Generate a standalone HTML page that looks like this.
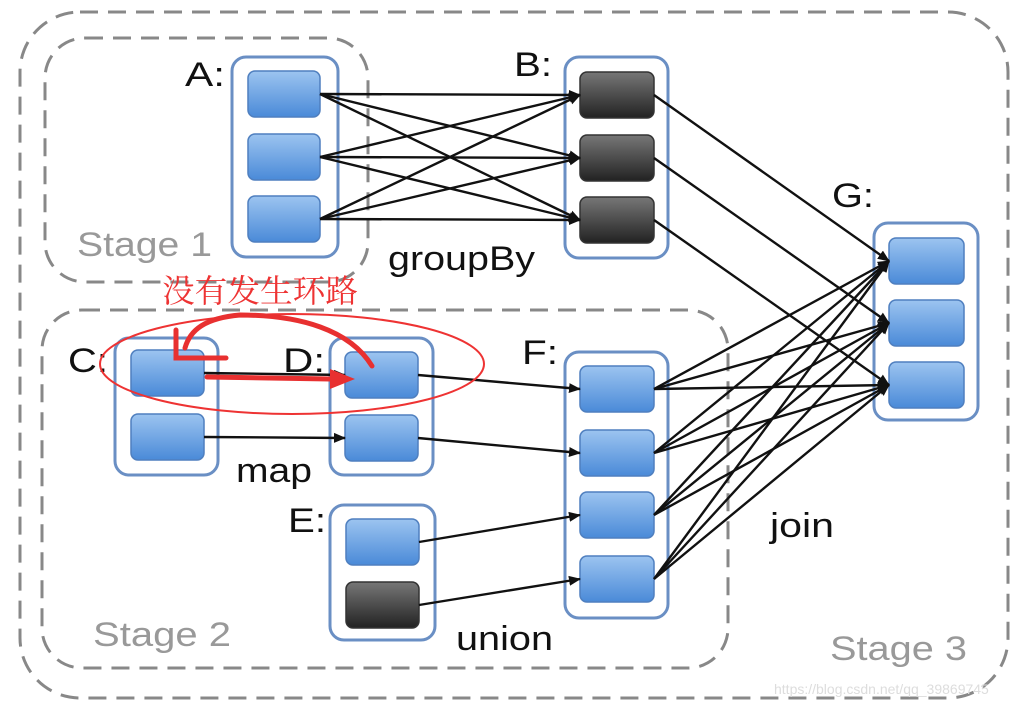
<!DOCTYPE html>
<html><head><meta charset="utf-8"><style>body{margin:0;background:#fff}svg{display:block}</style></head><body>
<svg width="1024" height="708" viewBox="0 0 1024 708" xmlns="http://www.w3.org/2000/svg" font-family="Liberation Sans, sans-serif">
<defs>
<linearGradient id="bl" x1="0" y1="0" x2="0" y2="1"><stop offset="0" stop-color="#9cc4f0"/><stop offset="1" stop-color="#4a8ad8"/></linearGradient>
<linearGradient id="dk" x1="0" y1="0" x2="0" y2="1"><stop offset="0" stop-color="#777"/><stop offset="1" stop-color="#222"/></linearGradient>
<marker id="ar" markerWidth="12" markerHeight="12" refX="11" refY="6" orient="auto" markerUnits="userSpaceOnUse"><path d="M0,1 L12,6 L0,11 z" fill="#111"/></marker>
</defs>
<g fill="none" stroke="#888" stroke-width="3" stroke-dasharray="18,10">
<rect x="20" y="12" width="988" height="686" rx="60"/>
<rect x="45" y="38" width="323" height="244" rx="40"/>
<rect x="42" y="310" width="686" height="358" rx="40"/>
</g>
<g fill="#fff" stroke="#6a8fc4" stroke-width="3">
<rect x="232" y="57" width="106" height="200" rx="14"/>
<rect x="565" y="57" width="103" height="201" rx="14"/>
<rect x="874" y="223" width="104" height="197" rx="14"/>
<rect x="115" y="338" width="103" height="137" rx="14"/>
<rect x="330" y="338" width="103" height="137" rx="14"/>
<rect x="330" y="505" width="105" height="135" rx="14"/>
<rect x="565" y="352" width="103" height="266" rx="14"/>
</g>
<g stroke="#4f7fbf" stroke-width="1.5" fill="url(#bl)">
<rect x="248" y="71" width="72" height="46" rx="7"/><rect x="248" y="134" width="72" height="46" rx="7"/><rect x="248" y="196" width="72" height="46" rx="7"/>
<rect x="889" y="238" width="75" height="46" rx="7"/><rect x="889" y="300" width="75" height="46" rx="7"/><rect x="889" y="362" width="75" height="46" rx="7"/>
<rect x="131" y="350" width="73" height="46" rx="7"/><rect x="131" y="414" width="73" height="46" rx="7"/>
<rect x="345" y="352" width="73" height="46" rx="7"/><rect x="345" y="415" width="73" height="46" rx="7"/>
<rect x="346" y="519" width="73" height="46" rx="7"/>
<rect x="580" y="366" width="74" height="46" rx="7"/><rect x="580" y="430" width="74" height="46" rx="7"/><rect x="580" y="492" width="74" height="46" rx="7"/><rect x="580" y="556" width="74" height="46" rx="7"/>
</g>
<g stroke="#333" stroke-width="1.5" fill="url(#dk)">
<rect x="580" y="72" width="74" height="46" rx="7"/><rect x="580" y="135" width="74" height="46" rx="7"/><rect x="580" y="197" width="74" height="46" rx="7"/>
<rect x="346" y="582" width="73" height="46" rx="7"/>
</g>
<g stroke="#111" stroke-width="2.4" marker-end="url(#ar)">
<line x1="320" y1="94" x2="580" y2="95"/><line x1="320" y1="94" x2="580" y2="158"/><line x1="320" y1="94" x2="580" y2="220"/>
<line x1="320" y1="157" x2="580" y2="95"/><line x1="320" y1="157" x2="580" y2="158"/><line x1="320" y1="157" x2="580" y2="220"/>
<line x1="320" y1="219" x2="580" y2="95"/><line x1="320" y1="219" x2="580" y2="158"/><line x1="320" y1="219" x2="580" y2="220"/>
<line x1="654" y1="95" x2="889" y2="261"/><line x1="654" y1="158" x2="889" y2="323"/><line x1="654" y1="220" x2="889" y2="385"/>
<line x1="654" y1="389" x2="889" y2="261"/><line x1="654" y1="389" x2="889" y2="323"/><line x1="654" y1="389" x2="889" y2="385"/>
<line x1="654" y1="453" x2="889" y2="261"/><line x1="654" y1="453" x2="889" y2="323"/><line x1="654" y1="453" x2="889" y2="385"/>
<line x1="654" y1="515" x2="889" y2="261"/><line x1="654" y1="515" x2="889" y2="323"/><line x1="654" y1="515" x2="889" y2="385"/>
<line x1="654" y1="579" x2="889" y2="261"/><line x1="654" y1="579" x2="889" y2="323"/><line x1="654" y1="579" x2="889" y2="385"/>
<line x1="204" y1="373" x2="345" y2="375"/><line x1="204" y1="437" x2="345" y2="438"/>
<line x1="418" y1="375" x2="580" y2="389"/><line x1="418" y1="438" x2="580" y2="453"/>
<line x1="419" y1="542" x2="580" y2="515"/><line x1="419" y1="605" x2="580" y2="579"/>
</g>
<g font-size="34" fill="#111">
<text x="185" y="86" textLength="40" lengthAdjust="spacingAndGlyphs">A:</text><text x="514" y="76" textLength="38" lengthAdjust="spacingAndGlyphs">B:</text><text x="832" y="207" textLength="42" lengthAdjust="spacingAndGlyphs">G:</text>
<text x="68" y="372" textLength="40" lengthAdjust="spacingAndGlyphs">C:</text><text x="283" y="372" textLength="42" lengthAdjust="spacingAndGlyphs">D:</text><text x="522" y="364" textLength="36" lengthAdjust="spacingAndGlyphs">F:</text><text x="288" y="532" textLength="38" lengthAdjust="spacingAndGlyphs">E:</text>
<text x="388" y="270" textLength="147" lengthAdjust="spacingAndGlyphs">groupBy</text><text x="236" y="482" textLength="76" lengthAdjust="spacingAndGlyphs">map</text><text x="456" y="650" textLength="97" lengthAdjust="spacingAndGlyphs">union</text><text x="770" y="537" textLength="64" lengthAdjust="spacingAndGlyphs">join</text>
</g>
<g font-size="34" fill="#999">
<text x="77" y="256" textLength="135" lengthAdjust="spacingAndGlyphs">Stage 1</text><text x="93" y="646" textLength="138" lengthAdjust="spacingAndGlyphs">Stage 2</text><text x="830" y="660" textLength="137" lengthAdjust="spacingAndGlyphs">Stage 3</text>
</g>
<text x="774" y="694" font-size="14" fill="#ddd">https://blog.csdn.net/qq_39869745</text>
<ellipse cx="292" cy="364" rx="192" ry="50" fill="none" stroke="#e33" stroke-width="2"/>
<text x="162" y="302" font-size="32" fill="#e33" textLength="196" lengthAdjust="spacingAndGlyphs" font-family="Liberation Serif, Noto Serif CJK SC, serif">没有发生环路</text>
<g stroke="#e83030" stroke-width="5" fill="none" stroke-linecap="round">
<path d="M207,377 L330,379"/>
<path d="M372,366 C350,330 300,315 240,315 C205,318 190,330 185,348"/>
<path d="M176,330 L176,358 L226,358"/>
</g>
<path d="M330,369 L355,379 L330,389 z" fill="#e83030"/>
</svg>
</body></html>
